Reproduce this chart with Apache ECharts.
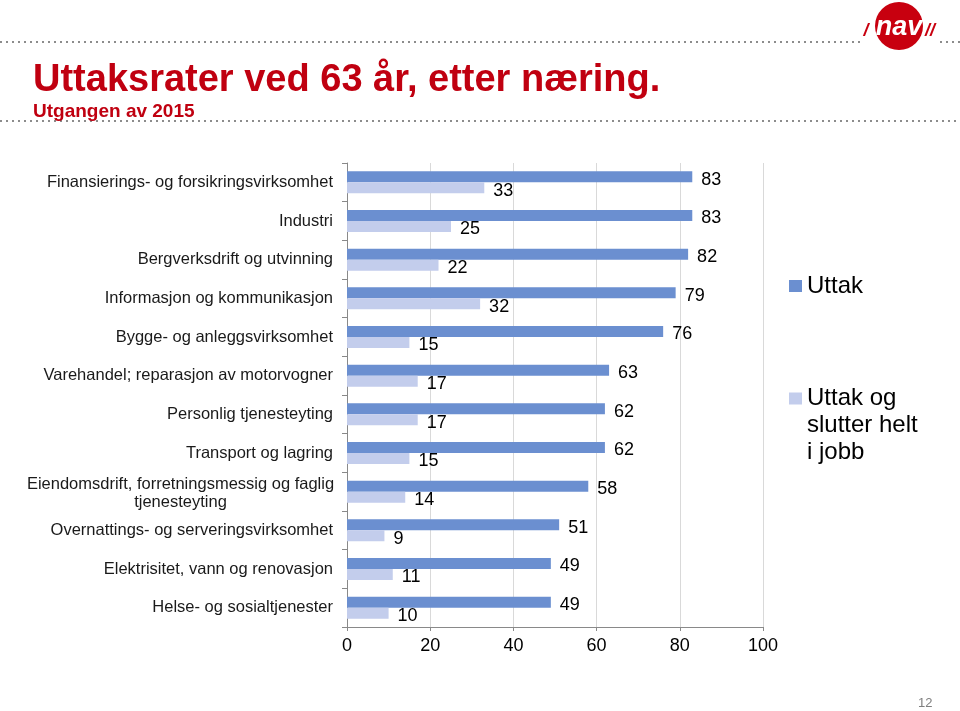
<!DOCTYPE html>
<html>
<head>
<meta charset="utf-8">
<script src="https://cdn.jsdelivr.net/npm/echarts@6/dist/echarts.min.js"></script>
<style>
html,body{margin:0;padding:0;background:#fff;}
#chart{width:960px;height:711px;}
</style>
</head>
<body>
<div id="chart"></div>
<script>
const titleText = 'Uttaksrater ved 63 år, etter næring.';
const subtitleText = 'Utgangen av 2015';
const categories = [
  'Finansierings- og forsikringsvirksomhet',
  'Industri',
  'Bergverksdrift og utvinning',
  'Informasjon og kommunikasjon',
  'Bygge- og anleggsvirksomhet',
  'Varehandel; reparasjon av motorvogner',
  'Personlig tjenesteyting',
  'Transport og lagring',
  'Eiendomsdrift, forretningsmessig og faglig\ntjenesteyting',
  'Overnattings- og serveringsvirksomhet',
  'Elektrisitet, vann og renovasjon',
  'Helse- og sosialtjenester'
];
const seriesNames = ['Uttak', 'Uttak og slutter helt i jobb'];
const legendLines2 = ['Uttak og', 'slutter helt', 'i jobb'];
const uttak = [83, 83, 82, 79, 76, 63, 62, 62, 58, 51, 49, 49];
const uttakSlutter = [33, 25, 22, 32, 15, 17, 17, 15, 14, 9, 11, 10];
const xTicks = [0, 20, 40, 60, 80, 100];
const pageNumber = '12';

const FONT = "'Liberation Sans', Arial, sans-serif";
const DARK = '#6b8fd0';
const LIGHT = '#c3cdec';
const RED = '#c00010';

const chart = echarts.init(document.getElementById('chart'), null, {renderer: 'canvas'});

const valueLabel = {
  show: true,
  position: 'right',
  distance: 9,
  offset: [0, 3],
  fontSize: 18,
  color: '#000',
  fontFamily: FONT
};

chart.setOption({
  backgroundColor: '#fff',
  animation: false,
  textStyle: {fontFamily: FONT},
  title: [
    {
      text: titleText, left: 33, top: 62, padding: 0,
      textStyle: {fontSize: 38, fontWeight: 'bold', color: RED, fontFamily: FONT}
    },
    {
      text: subtitleText, left: 33, top: 102, padding: 0,
      textStyle: {fontSize: 19, fontWeight: 'bold', color: RED, fontFamily: FONT}
    },
    {
      text: pageNumber, left: 918, top: 697, padding: 0,
      textStyle: {fontSize: 13, fontWeight: 'normal', color: '#7f7f7f', fontFamily: FONT}
    }
  ],
  legend: [
    {
      data: [seriesNames[0]],
      left: 789, top: 274, padding: 0,
      orient: 'vertical',
      itemWidth: 13, itemHeight: 12, itemGap: 0,
      icon: 'rect', selectedMode: false,
      textStyle: {fontSize: 24, color: '#000', fontFamily: FONT}
    },
    {
      data: [seriesNames[1]],
      left: 789, top: 331, padding: 0,
      orient: 'vertical',
      itemWidth: 13, itemHeight: 12, itemGap: 0,
      icon: 'rect', selectedMode: false,
      formatter: function () {
        return '{e| }\n{e| }\n' + legendLines2.map(function (l) { return '{t|' + l + '}'; }).join('\n');
      },
      textStyle: {
        fontSize: 24, lineHeight: 27, color: '#000', fontFamily: FONT,
        rich: {
          e: {fontSize: 24, lineHeight: 27, fontFamily: FONT},
          t: {fontSize: 24, lineHeight: 27, color: '#000', fontFamily: FONT}
        }
      }
    }
  ],
  grid: {left: 347, top: 163, width: 416, height: 464, containLabel: false},
  xAxis: {
    type: 'value',
    min: xTicks[0], max: xTicks[xTicks.length - 1], interval: 20,
    axisLine: {show: true, lineStyle: {color: '#898989', width: 1}},
    axisTick: {show: true, length: 4, lineStyle: {color: '#898989'}},
    splitLine: {show: true, lineStyle: {color: '#d9d9d9', width: 1}},
    axisLabel: {fontSize: 18, color: '#000', margin: 10, fontFamily: FONT}
  },
  yAxis: {
    type: 'category',
    inverse: true,
    data: categories,
    axisLine: {show: true, lineStyle: {color: '#898989', width: 1}},
    axisTick: {show: true, length: 5, lineStyle: {color: '#898989'}},
    axisLabel: {
      fontSize: 16.5, color: '#1a1a1a', margin: 14, fontFamily: FONT,
      formatter: function (v) {
        if (v.indexOf('\n') >= 0) {
          return v.split('\n').map(function (l) { return '{c|' + l + '}'; }).join('\n');
        }
        return v;
      },
      rich: {
        c: {width: 305, align: 'center', fontSize: 16.5, lineHeight: 18, color: '#1a1a1a', fontFamily: FONT, padding: [4, 0, 0, 0]}
      }
    }
  },
  series: [
    {
      name: seriesNames[0], type: 'bar', data: uttak,
      barWidth: 11, barGap: '0%',
      itemStyle: {color: DARK},
      label: valueLabel
    },
    {
      name: seriesNames[1], type: 'bar', data: uttakSlutter,
      barWidth: 11, barGap: '0%',
      itemStyle: {color: LIGHT},
      label: valueLabel
    }
  ],
  graphic: [
    {type: 'line', shape: {x1: 0, y1: 121, x2: 960, y2: 121}, style: {stroke: '#8c8c8c', lineWidth: 2, lineDash: [2, 4]}, silent: true},
    {type: 'line', shape: {x1: 0, y1: 42, x2: 860, y2: 42}, style: {stroke: '#8c8c8c', lineWidth: 2, lineDash: [2, 4]}, silent: true},
    {type: 'line', shape: {x1: 940, y1: 42, x2: 960, y2: 42}, style: {stroke: '#8c8c8c', lineWidth: 2, lineDash: [2, 4]}, silent: true},
    {type: 'circle', shape: {cx: 899, cy: 26, r: 24}, style: {fill: '#c8000f'}, silent: true},
    {type: 'text', x: 899, y: 28, style: {text: 'nav', fill: '#fff', font: "italic bold 27px 'Liberation Sans', Arial", align: 'center', verticalAlign: 'middle'}, silent: true},
    {type: 'text', x: 866, y: 31, style: {text: '/', fill: '#c8000f', font: "italic bold 18px 'Liberation Sans', Arial", align: 'center', verticalAlign: 'middle'}, silent: true},
    {type: 'text', x: 930, y: 31, style: {text: '//', fill: '#c8000f', font: "italic bold 18px 'Liberation Sans', Arial", align: 'center', verticalAlign: 'middle'}, silent: true}
  ]
});
</script>
</body>
</html>
